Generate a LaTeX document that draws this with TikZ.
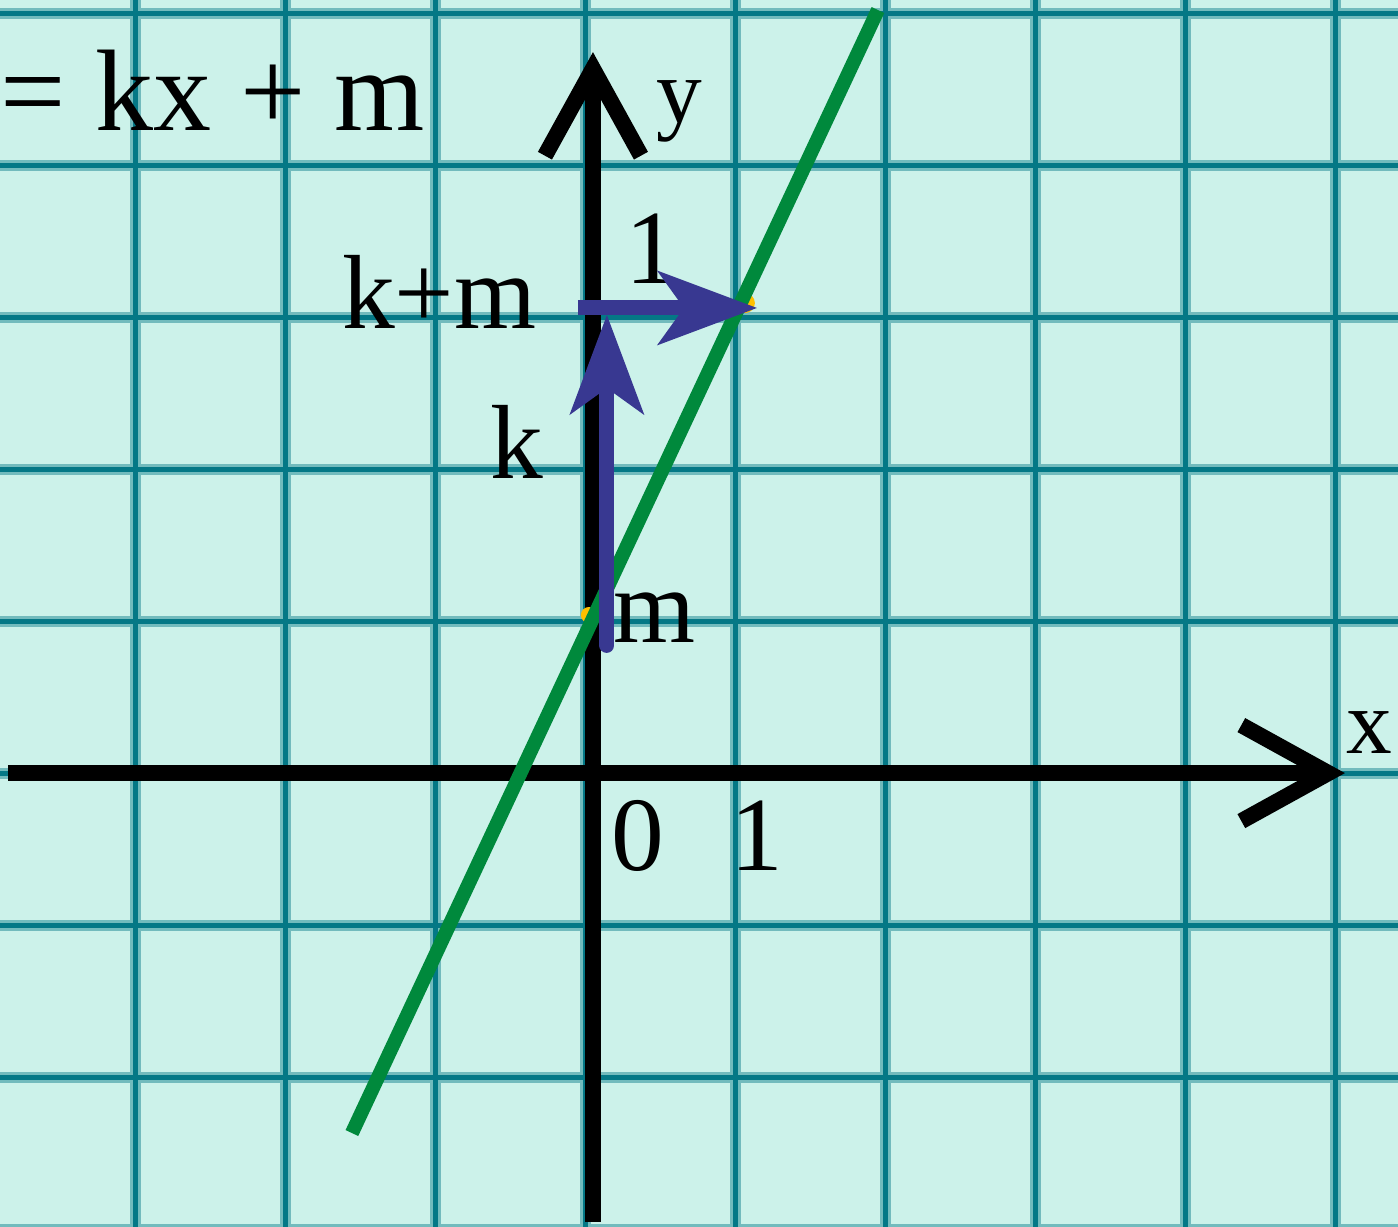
\documentclass[tikz,border=0pt]{standalone}
\usepackage{fontspec}
\setmainfont{Liberation Serif}
\usetikzlibrary{arrows.meta}
\definecolor{paper}{RGB}{204,242,234}
\definecolor{gridteal}{RGB}{4,120,134}
\definecolor{linegreen}{RGB}{0,137,60}
\definecolor{vecblue}{RGB}{56,56,145}
\definecolor{dotyellow}{RGB}{255,192,0}

\begin{document}
\begin{tikzpicture}[x=1.5cm,y=1.52cm,
  gridsoft/.style={gridteal!45!paper,line width=0.11cm},
  gridcore/.style={gridteal,line width=0.05cm},
  axis/.style={black,line width=0.16cm,line join=miter,-{Straight Barb[length=0.87cm,width=0.96cm]}},
  vec/.style={vecblue,line width=0.15cm,-{Stealth[length=1cm,width=0.75cm,inset=0.27cm,line width=0pt]}},
  lbl/.style={font=\fontsize{30}{36}\selectfont,inner sep=0pt},
  axlbl/.style={font=\fontsize{26}{31}\selectfont,inner sep=0pt}]
  \useasboundingbox (-3.953,-2.980) rectangle (5.367,5.086);
  \clip (-3.953,-2.980) rectangle (5.367,5.086);
  \fill[paper] (-3.953,-2.980) rectangle (5.367,5.086);

  % Grid
  \foreach \i in {-3,...,5} \draw[gridsoft] (\i-0.05,-3.1) -- (\i-0.05,5.2);
  \foreach \j in {-3,...,5} \draw[gridsoft] (-4,\j) -- (5.4,\j);
  \foreach \i in {-3,...,5} \draw[gridcore] (\i-0.05,-3.1) -- (\i-0.05,5.2);
  \foreach \j in {-3,...,5} \draw[gridcore] (-4,\j) -- (5.4,\j);

  % Axes
  \coordinate (xfrom) at (-3.9,0);
  \coordinate (xto) at (5.013,0);
  \coordinate (yfrom) at (0,-2.95);
  \coordinate (yto) at (0,4.743);
  \draw[axis] (xfrom) -- (xto);
  \draw[axis] (yfrom) -- (yto);

  % Points on the line
  \fill[dotyellow] (1.013,3.092) circle (0.1cm);
  \fill[dotyellow] (-0.027,1.04) circle (0.08cm);

  % Line
  \coordinate (lineA) at (-1.607,-2.368);
  \coordinate (lineB) at (1.9,5.02);
  \draw[linegreen,line width=0.14cm] (lineA) -- (lineB);

  % Labels
  \node[lbl,anchor=base west,font=\fontsize{33}{40}\selectfont] (eq) at (-3.953,4.23) {= kx + m};
  \node[axlbl,anchor=base west] (ylbl) at (0.42,4.28) {y};
  \node[axlbl,anchor=base west] (xlbl) at (5.02,0.132) {x};
  \node[lbl,anchor=base] (zero) at (0.297,-0.638) {0};
  \node[lbl,anchor=base] (onex) at (1.093,-0.638) {1};
  \node[lbl,anchor=base] (oney) at (0.395,3.224) {1};
  \node[lbl,anchor=base east] (kmlbl) at (-0.373,2.928) {k+m};
  \node[lbl,anchor=base] (klbl) at (-0.505,1.941) {k};
  \node[lbl,anchor=base] (mlbl) at (0.41,0.862) {m};

  % Steps k and 1
  \coordinate (mfoot) at (0.093,0.84);
  \coordinate (kmhead) at (0.093,3.013);
  \coordinate (kmleft) at (-0.1,3.06);
  \coordinate (onehead) at (1.093,3.06);
  \draw[vec,line cap=round] (mfoot) -- (kmhead);
  \draw[vec] (kmleft) -- (onehead);
\end{tikzpicture}
\end{document}
